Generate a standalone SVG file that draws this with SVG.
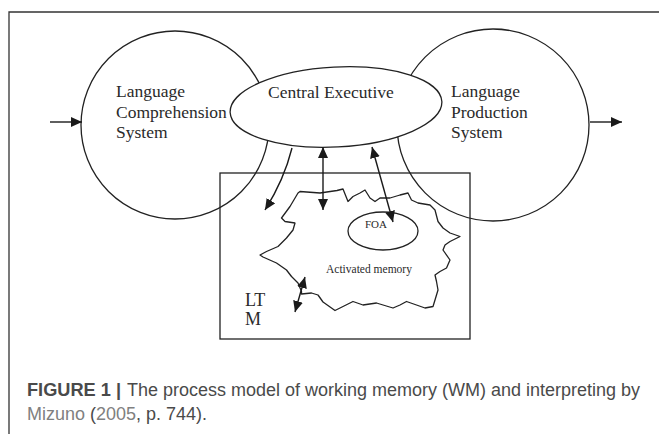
<svg xmlns="http://www.w3.org/2000/svg" width="659" height="434" viewBox="0 0 659 434">
<style>
.ln{fill:none;stroke:#222;stroke-width:1.3}
.dg{font-family:"Liberation Serif","Times New Roman",serif;fill:#2a2a2a}
.big{font-size:17.5px}
.cap{font-family:"Liberation Sans",Arial,Helvetica,sans-serif;font-size:17.5px;fill:#4a4a4a}
.conn{fill:none;stroke:#1a1a1a;stroke-width:1.4}
</style>
<defs>
<marker id="ah" viewBox="0 0 11 10" refX="11" refY="5" markerWidth="11" markerHeight="10" markerUnits="userSpaceOnUse" orient="auto-start-reverse">
<path d="M0,0 L11,5 L0,10 z" fill="#1a1a1a"/>
</marker>
</defs>
<rect width="659" height="434" fill="#fff"/>
<g id="frame">
<path d="M9,434 V12 H659" fill="none" stroke="#333" stroke-width="1.3"/>
</g>
<g id="comprehension">
<circle cx="175" cy="125" r="94" class="ln"/>
<text class="dg big" x="116" y="97">Language</text>
<text class="dg big" x="116" y="118">Comprehension</text>
<text class="dg big" x="116" y="138">System</text>
</g>
<g id="production">
<circle cx="493" cy="125" r="96" class="ln"/>
<text class="dg big" x="451" y="97">Language</text>
<text class="dg big" x="451" y="118">Production</text>
<text class="dg big" x="451" y="138">System</text>
</g>
<g id="central-executive">
<ellipse cx="336" cy="107" rx="106" ry="40" transform="rotate(-3 336 107)" fill="#fff" stroke="#222" stroke-width="1.3"/>
<text class="dg big" x="268" y="98">Central Executive</text>
</g>
<g id="ltm">
<rect x="220" y="173" width="250" height="166" class="ln"/>
<text class="dg" font-size="18" x="245" y="306">LT</text>
<text class="dg" font-size="18" x="245" y="325">M</text>
</g>
<g id="activated-memory">
<path class="ln" stroke-width="1.5" stroke-linejoin="round" d="M298,193 L300,191.5 L320,193 L337,190.5 L343,189 L348,201.5 L353,196.5 L360,193 L365,190 L370,198 L375,201.5 L380,198 L390,198 L400,195 L408,193 L411.5,200 L418,203 L430,205 L435,210 L438,221.5 L443,228 L450,233 L460,236.5 L450,241.5 L445,245 L443,250 L450,260 L446.5,268 L440,271.5 L435,275 L436.5,281.5 L438,290 L435,300 L433,306.5 L425,308 L416.5,305 L406.5,301.5 L400,305 L393,308 L388,306.5 L376.5,303 L363,305 L353,301.5 L343,306.5 L335,310.5 L323,302 L318,295 L311.5,293 L301.5,294 L301.5,291.5 L298,283 L291.5,276.5 L286.5,270 L276.5,263 L263,257 L260,255 L266.5,251.5 L278,246.5 L286.5,238 L293,230 L295,223 L285,221.5 L281.5,218 L290,206.5 Z"/>
<text class="dg" font-size="11.5" x="326" y="273">Activated memory</text>
</g>
<g id="foa">
<ellipse cx="383" cy="231" rx="35" ry="19" class="ln"/>
<text class="dg" font-size="11" x="365" y="228" fill="#555">FOA</text>
</g>
<g id="connectors">
<line class="conn" x1="50" y1="122" x2="82" y2="122" marker-end="url(#ah)"/>
<line class="conn" x1="590" y1="122" x2="622" y2="122" marker-end="url(#ah)"/>
<path class="conn" d="M292,148 Q284,180 265,210" marker-end="url(#ah)"/>
<line class="conn" x1="323" y1="147" x2="323" y2="210" marker-start="url(#ah)" marker-end="url(#ah)"/>
<line class="conn" x1="372" y1="147" x2="393" y2="222" marker-start="url(#ah)" marker-end="url(#ah)"/>
<line class="conn" x1="305" y1="277" x2="295" y2="312" marker-start="url(#ah)" marker-end="url(#ah)"/>
</g>
<g id="caption">
<text class="cap" x="27" y="396" font-weight="bold" fill="#2b2b2b" textLength="94" lengthAdjust="spacingAndGlyphs">FIGURE 1 |</text>
<text class="cap" x="127" y="396" textLength="513" lengthAdjust="spacingAndGlyphs">The process model of working memory (WM) and interpreting by</text>
<text class="cap" x="27" y="420" textLength="180" lengthAdjust="spacingAndGlyphs"><tspan fill="#808080">Mizuno</tspan> (<tspan fill="#808080">2005</tspan>, p. 744).</text>
</g>
</svg>
